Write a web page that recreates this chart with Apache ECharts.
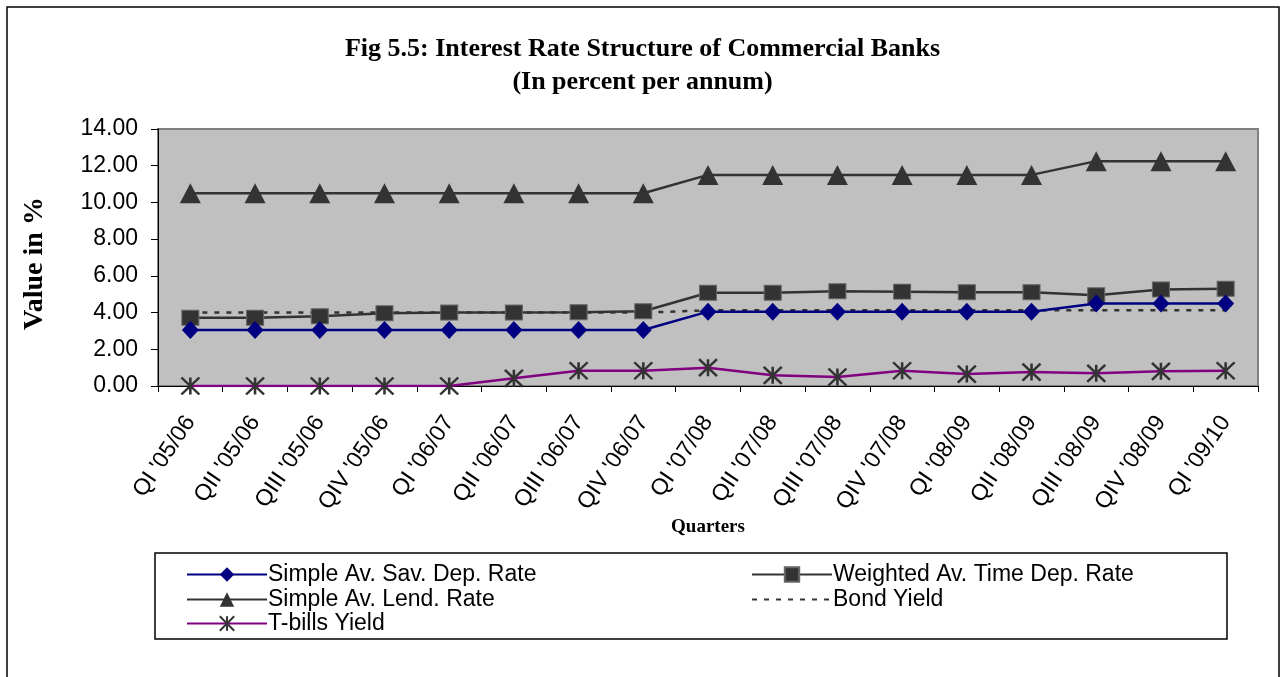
<!DOCTYPE html>
<html><head><meta charset="utf-8">
<script src="https://cdn.jsdelivr.net/npm/echarts@6/dist/echarts.min.js"></script>
<style>html,body{margin:0;padding:0;background:#fff}#c{width:1285px;height:677px}</style>
</head><body><div id="c"></div>
<script>
var categories = ["QI '05/06","QII '05/06","QIII '05/06","QIV '05/06","QI '06/07","QII '06/07","QIII '06/07","QIV '06/07","QI '07/08","QII '07/08","QIII '07/08","QIV '07/08","QI '08/09","QII '08/09","QIII '08/09","QIV '08/09","QI '09/10"];
var savDep = [3.05,3.05,3.05,3.05,3.05,3.05,3.05,3.05,4.05,4.05,4.05,4.05,4.05,4.05,4.5,4.5,4.5];
var timeDep = [3.72,3.72,3.8,3.96,4.0,4.0,4.02,4.07,5.08,5.08,5.16,5.14,5.11,5.11,4.94,5.26,5.3];
var lendRate = [10.5,10.5,10.5,10.5,10.5,10.5,10.5,10.5,11.5,11.5,11.5,11.5,11.5,11.5,12.25,12.25,12.25];
var bondYield = [4.0,4.0,4.0,4.0,4.0,4.0,4.0,4.0,4.12,4.12,4.12,4.12,4.12,4.12,4.12,4.12,4.12];
var tbills = [0,0,0,0,0,0.42,0.83,0.83,1.0,0.58,0.49,0.83,0.65,0.76,0.69,0.8,0.83];
var yTicks = {min:0, max:14, interval:2};

var star = 'path://M0,0L10,10M10,0L0,10M5,0L5,10';
var chart = echarts.init(document.getElementById('c'), null, {renderer:'canvas'});
function leg(name, left, top, hideSymbol){
  var l = {data:[name], left:left, top:top, padding:0, orient:'horizontal', itemWidth:80, itemHeight:18, itemGap:0,
    textStyle:{fontFamily:'Liberation Sans, Arial', fontSize:23, color:'#000', padding:[0,0,0,-4]}, selectedMode:false};
  if (hideSymbol) l.itemStyle = {color:'rgba(0,0,0,0)', borderWidth:0, opacity:0};
  return l;
}
chart.setOption({
  animation:false,
  backgroundColor:'#fff',
  title:{text:'Fig 5.5: Interest Rate Structure of Commercial Banks\n(In percent per annum)', left:'center', top:28,
    textStyle:{fontFamily:'Liberation Serif, Times New Roman', fontWeight:'bold', fontSize:26, lineHeight:33, color:'#000'}},
  graphic:[
    {type:'rect', shape:{x:7,y:7,width:1272,height:700}, style:{fill:null, stroke:'#000', lineWidth:1.5}, z:-1},
    {type:'rect', shape:{x:155,y:553,width:1072,height:86}, style:{fill:'#fff', stroke:'#000', lineWidth:1.5}, z:-1}
  ],
  legend:[
    leg('Simple Av. Sav. Dep. Rate', 186, 563),
    leg('Weighted Av. Time Dep. Rate', 751, 563),
    leg('Simple Av. Lend. Rate', 186, 588),
    leg('Bond Yield', 751, 588, true),
    leg('T-bills Yield', 186, 612)
  ],
  grid:{left:158, top:129, width:1100, height:257, show:true, backgroundColor:'#C0C0C0', borderColor:'#808080', borderWidth:2},
  xAxis:{type:'category', data:categories, boundaryGap:true,
    name:'Quarters', nameLocation:'middle', nameGap:132,
    nameTextStyle:{fontFamily:'Liberation Serif, Times New Roman', fontWeight:'bold', fontSize:19, color:'#000'},
    axisLine:{lineStyle:{color:'#000', width:1}}, axisTick:{show:true, length:6, lineStyle:{color:'#000'}, alignWithLabel:false},
    axisLabel:{rotate:56, margin:32, fontFamily:'Liberation Sans, Arial', fontSize:23, color:'#000', interval:0},
    splitLine:{show:false}},
  yAxis:{type:'value', min:yTicks.min, max:yTicks.max, interval:yTicks.interval,
    name:'Value in %', nameLocation:'middle', nameGap:109, nameRotate:90,
    nameTextStyle:{fontFamily:'Liberation Serif, Times New Roman', fontWeight:'bold', fontSize:28, color:'#000', padding:[0,12,0,0]},
    axisLine:{show:true, lineStyle:{color:'#000', width:1}}, axisTick:{show:true, length:7, lineStyle:{color:'#000'}},
    axisLabel:{formatter:function(v){return v.toFixed(2);}, margin:20, fontFamily:'Liberation Sans, Arial', fontSize:23, color:'#000'},
    splitLine:{show:false}},
  series:[
    {name:'Simple Av. Sav. Dep. Rate', type:'line', data:savDep, symbol:'diamond', symbolSize:[17,18],
      lineStyle:{color:'#000080', width:2.5}, itemStyle:{color:'#000080'}, z:4},
    {name:'Weighted Av. Time Dep. Rate', type:'line', data:timeDep, symbol:'rect', symbolSize:[17,15],
      lineStyle:{color:'#333333', width:2.5}, itemStyle:{color:'#333333', borderColor:'#666', borderWidth:1}, z:3},
    {name:'Simple Av. Lend. Rate', type:'line', data:lendRate, symbol:'triangle', symbolSize:[21,20],
      lineStyle:{color:'#333333', width:2.5}, itemStyle:{color:'#333333'}, z:3},
    {name:'Bond Yield', type:'line', data:bondYield, symbol:'none', showSymbol:false,
      lineStyle:{color:'#333333', width:2.5, type:[5,7]}, itemStyle:{color:'#333333'}, z:2},
    {name:'T-bills Yield', type:'line', data:tbills, symbol:star, symbolSize:[18,17],
      lineStyle:{color:'#800080', width:2.5}, itemStyle:{color:'rgba(0,0,0,0)', borderColor:'#333333', borderWidth:2.5}, z:3}
  ]
});
</script></body></html>
